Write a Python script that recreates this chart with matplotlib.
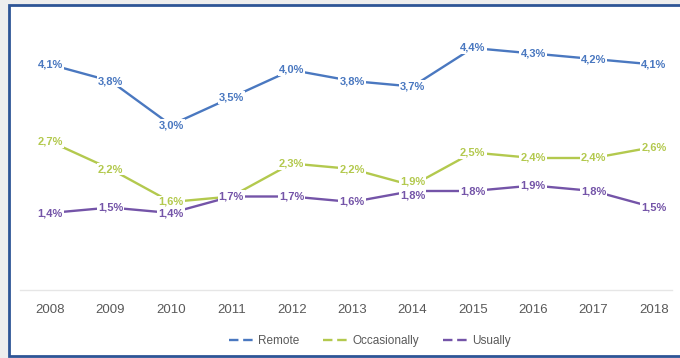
import matplotlib
matplotlib.use("Agg")
import matplotlib.pyplot as plt
from matplotlib.patches import Rectangle

# Anteile nach Jahr (%)
years = ["2008", "2009", "2010", "2011", "2012", "2013", "2014", "2015", "2016", "2017", "2018"]
remote = [4.1, 3.8, 3.0, 3.5, 4.0, 3.8, 3.7, 4.4, 4.3, 4.2, 4.1]
occasionally = [2.7, 2.2, 1.6, 1.7, 2.3, 2.2, 1.9, 2.5, 2.4, 2.4, 2.6]
usually = [1.4, 1.5, 1.4, 1.7, 1.7, 1.6, 1.8, 1.8, 1.9, 1.8, 1.5]

series = [
    ("Remote", remote, "#4a78c0"),
    ("Occasionally", occasionally, "#b3c94e"),
    ("Usually", usually, "#7454a8"),
]

W, H = 680, 358
fig = plt.figure(figsize=(W / 100, H / 100), dpi=100)
fig.patch.set_facecolor("#eeeeee")

# white panel with blue frame
fig.patches.append(Rectangle((9 / W, 2 / H), 1.0, (H - 7) / H, transform=fig.transFigure,
                             facecolor="white", edgecolor="#2e5596", linewidth=2, zorder=0))

ax = fig.add_axes([20 / W, (H - 290) / H, 652 / W, 275 / H])
ax.set_zorder(2)
ax.set_facecolor("none")
x = list(range(len(years)))

for name, vals, col in series:
    ax.plot(x, vals, color=col, linewidth=1.7, label=name, zorder=2)
    for xi, v in zip(x, vals):
        # nudge labels apart where occasionally/usually are close but not equal
        dy = 0
        gap = occasionally[xi] - usually[xi]
        if 0 < gap < 0.15:
            dy = 3 if name == "Occasionally" else (-3 if name == "Usually" else 0)
        ax.annotate(f"{v:.1f}%".replace(".", ","), (xi, v), xytext=(0, dy), textcoords="offset points",
                    ha="center", va="center", fontsize=8, fontweight="bold", color=col,
                    family="Liberation Sans", zorder=3,
                    bbox=dict(boxstyle="square,pad=0.1", facecolor="white", edgecolor="none"))

ax.set_xlim(-0.5, 10.3)
ax.set_ylim(0, 5)
ax.set_xticks(x)
ax.set_xticklabels(years, fontsize=9.5, color="#595959", family="Liberation Sans")
ax.set_yticks([])
ax.tick_params(axis="x", length=0, pad=10)
for s in ["top", "right", "left"]:
    ax.spines[s].set_visible(False)
ax.spines["bottom"].set_color("#e6e6e6")
ax.spines["bottom"].set_linewidth(1)

handles = [plt.Line2D([], [], color=c, linewidth=1.7, linestyle=(0, (4, 2))) for _, _, c in series]
leg = fig.legend(handles, [n for n, _, _ in series], loc="center", bbox_to_anchor=(370 / W, 1 - 341 / H),
                 ncol=3, frameon=False, prop={"family": "Liberation Sans", "size": 8.5},
                 labelcolor="#595959", handlelength=2.2, handletextpad=0.3, columnspacing=2.0)
leg.set_zorder(3)

fig.savefig("out.png", dpi=100)
